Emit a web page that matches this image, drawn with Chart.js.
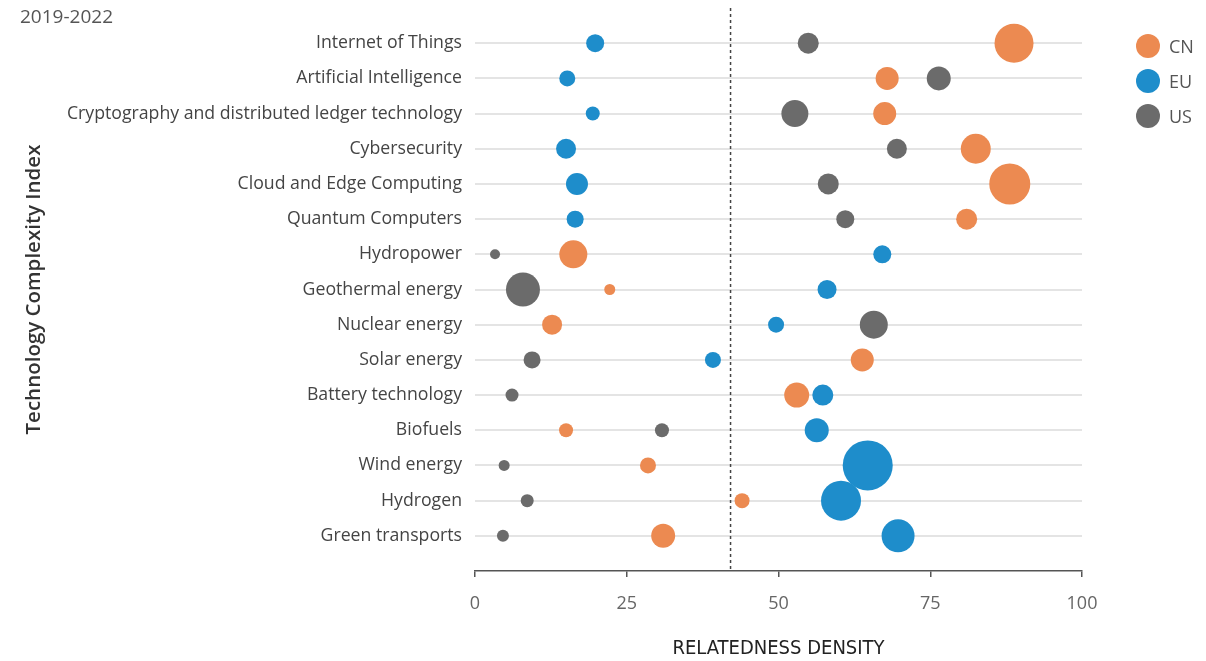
<!DOCTYPE html>
<html>
<head>
<meta charset="utf-8">
<script src="https://cdn.jsdelivr.net/npm/chart.js@4.4.1/dist/chart.umd.min.js"></script>
<style>
    html, body { margin: 0; padding: 0; background: #fff; }
    #wrap { position: relative; width: 1206px; height: 661px; }
    #chart { display: block; }
    #period { position: absolute; left: 20px; top: 3px; font: 19px "Open Sans", sans-serif; color: #555; }
    #legend { position: absolute; left: 1136px; top: 28px; font: 18px "Open Sans", sans-serif; color: #555; }
    .lg-item { display: flex; align-items: center; height: 35px; }
    .lg-dot { width: 24px; height: 24px; border-radius: 50%; margin-right: 9px; }
</style>
</head>
<body>
<div id="wrap">
    <canvas id="chart" width="1206" height="661"></canvas>
    <div id="period">2019-2022</div>
    <div id="legend"></div>
</div>
<script>
// ------ Data ------
var categories = [
    'Internet of Things', 'Artificial Intelligence', 'Cryptography and distributed ledger technology',
    'Cybersecurity', 'Cloud and Edge Computing', 'Quantum Computers', 'Hydropower', 'Geothermal energy',
    'Nuclear energy', 'Solar energy', 'Battery technology', 'Biofuels', 'Wind energy', 'Hydrogen', 'Green transports'
];
var cnDensity = [88.8, 67.9, 67.5, 82.5, 88.1, 81.0, 16.2, 22.2, 12.7, 63.8, 53.0, 15.0, 28.5, 44.0, 31.0];
var cnSize    = [19.5, 11.5, 11.5, 15, 20.5, 10.5, 14, 5.5, 10, 11.5, 12.5, 7, 8, 7.5, 12];
var euDensity = [19.8, 15.2, 19.4, 15.0, 16.8, 16.5, 67.1, 58.0, 49.6, 39.2, 57.3, 56.3, 64.7, 60.3, 69.7];
var euSize    = [9, 8, 7, 10, 11, 8.5, 9, 9.5, 8, 8, 10.5, 12, 25, 20, 16.5];
var usDensity = [54.9, 76.4, 52.7, 69.5, 58.2, 61.0, 3.3, 7.9, 65.7, 9.4, 6.1, 30.8, 4.8, 8.6, 4.6];
var usSize    = [10.5, 12, 13.5, 10, 10.5, 9, 5, 17, 14, 8.5, 6.5, 7, 5.5, 6.5, 6];
var xTicks = [0, 25, 50, 75, 100];
var threshold = 42.1;

var colors = { CN: '#ec8a51', EU: '#1e8dcb', US: '#6b6b6b' };

function points(xs, sizes) {
    return xs.map(function(x, i) { return { x: x, y: i, r: sizes[i] }; });
}

var datasets = [
    { label: 'EU', data: points(euDensity, euSize), backgroundColor: colors.EU, order: 1 },
    { label: 'CN', data: points(cnDensity, cnSize), backgroundColor: colors.CN, order: 2 },
    { label: 'US', data: points(usDensity, usSize), backgroundColor: colors.US, order: 3 },
    {
        type: 'line', label: 'threshold',
        data: [{ x: threshold, y: -1 }, { x: threshold, y: categories.length }],
        borderColor: '#444', borderWidth: 1.5, borderDash: [3, 3],
        pointRadius: 0, fill: false, order: 4
    }
];
datasets.forEach(function(d) { if (d.type !== 'line') { d.borderWidth = 0; d.hoverRadius = 0; } });

// ------ Legend (CN, EU, US) ------
document.getElementById('legend').innerHTML = ['CN', 'EU', 'US'].map(function(k) {
    return '<div class="lg-item"><div class="lg-dot" style="background:' + colors[k] + '"></div>' + k + '</div>';
}).join('');

// ------ Chart ------
new Chart(document.getElementById('chart'), {
    type: 'bubble',
    data: { datasets: datasets },
    options: {
        responsive: false,
        animation: false,
        layout: { autoPadding: false, padding: { left: 20, right: 124, top: 8, bottom: 0 } },
        plugins: { legend: { display: false }, tooltip: { enabled: false } },
        scales: {
            x: {
                type: 'linear', min: 0, max: 100,
                afterBuildTicks: function(s) { s.ticks = xTicks.map(function(v) { return { value: v }; }); },
                grid: { drawOnChartArea: false, color: '#555', tickLength: 6, lineWidth: 1.5 },
                border: { display: true, color: '#555', width: 1.5 },
                ticks: { color: '#666', padding: 16, font: { family: 'Open Sans', size: 18 } },
                title: {
                    display: true, text: 'RELATEDNESS DENSITY', color: '#222',
                    font: { family: 'DejaVu Sans Condensed, Liberation Sans, sans-serif', size: 20 }, padding: { top: 0, bottom: 0 }
                },
                afterFit: function(s) { s.height = 90; s.paddingLeft = 0; s.paddingRight = 0; }
            },
            y: {
                type: 'linear', reverse: true, min: -1, max: categories.length,
                afterBuildTicks: function(s) { s.ticks = categories.map(function(c, i) { return { value: i }; }); },
                grid: { color: '#e4e4e4', lineWidth: 2, drawTicks: false },
                border: { display: false },
                ticks: {
                    color: '#444', padding: 13, font: { family: 'Open Sans', size: 17.7 },
                    callback: function(v) { return categories[v] || ''; }
                },
                title: {
                    display: true, text: 'Technology Complexity Index', color: '#333',
                    font: { family: 'Open Sans', size: 20.5, weight: '600' }, padding: { top: 2, bottom: 0 }
                },
                afterFit: function(s) { s.width = 455; s.paddingTop = 0; s.paddingBottom = 0; }
            }
        }
    }
});
</script>
</body>
</html>
